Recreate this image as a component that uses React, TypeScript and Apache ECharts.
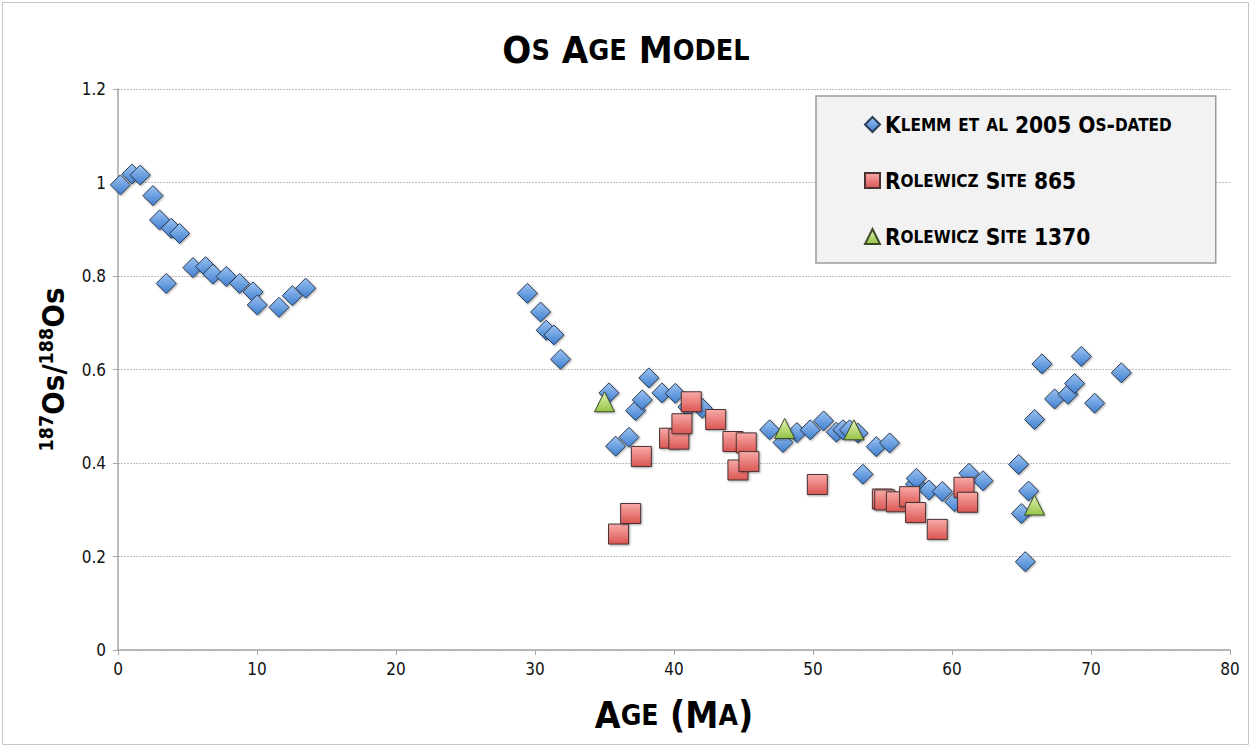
import React, { useEffect, useRef } from "react";
import * as echarts from "echarts";

const klemmAge = [0.17, 1.0, 1.6, 2.51, 2.99, 3.47, 3.83, 4.43, 5.39, 6.3, 6.83, 7.79, 8.75, 9.71, 10.02, 11.58, 12.54, 13.5,
  29.45, 30.4, 30.81, 31.36, 31.84, 35.32, 35.8, 36.76, 37.24, 37.72, 38.19, 39.13, 40.09, 41.0, 42.03,
  46.88, 47.84, 48.84, 49.8, 50.76, 51.68, 52.15, 52.63, 53.23, 53.59, 54.55, 55.51, 57.38, 57.43, 58.34, 59.3, 60.19, 61.22, 62.23,
  64.79, 64.99, 65.27, 65.51, 65.94, 66.47, 67.38, 68.34, 68.82, 69.3, 70.26, 72.18];
const klemmOs = [0.995, 1.018, 1.016, 0.972, 0.92, 0.784, 0.902, 0.891, 0.818, 0.82, 0.804, 0.799, 0.784, 0.766, 0.738, 0.733, 0.758, 0.774,
  0.763, 0.723, 0.684, 0.674, 0.622, 0.55, 0.436, 0.455, 0.512, 0.535, 0.582, 0.55, 0.549, 0.52, 0.517,
  0.471, 0.444, 0.465, 0.471, 0.49, 0.466, 0.471, 0.471, 0.464, 0.376, 0.435, 0.443, 0.355, 0.367, 0.342, 0.339, 0.317, 0.378, 0.362,
  0.397, 0.292, 0.189, 0.34, 0.493, 0.612, 0.537, 0.547, 0.57, 0.628, 0.528, 0.593];

const site865Age = [36.01, 36.88, 37.65, 39.68, 40.35, 40.57, 41.24, 43.0, 44.24, 44.6, 45.2, 45.39, 50.31, 54.99, 55.16, 56.0, 56.95, 57.38, 58.94, 60.86, 61.12];
const site865Os = [0.248, 0.292, 0.414, 0.453, 0.451, 0.484, 0.531, 0.493, 0.446, 0.385, 0.443, 0.403, 0.354, 0.323, 0.321, 0.317, 0.328, 0.294, 0.258, 0.348, 0.316];

const site1370Age = [35.0, 47.96, 52.94, 65.94];
const site1370Os = [0.531, 0.474, 0.471, 0.31];

const seriesNames = ["Klemm et al 2005 Os-dated", "Rolewicz Site 865", "Rolewicz Site 1370"];
const titleText = "Os Age Model";
const xName = "Age (Ma)";

const FONT = "'Liberation Sans Narrow', 'DejaVu Sans Condensed', 'Open Sans', sans-serif";

function smallCaps(s: string, big: string, small: string): string {
  let out = "";
  let cur = "";
  let curStyle = "";
  for (const ch of s) {
    const isLower = ch !== ch.toUpperCase();
    const st = isLower ? small : big;
    if (st !== curStyle && cur) {
      out += `{${curStyle}|${cur}}`;
      cur = "";
    }
    curStyle = st;
    cur += ch.toUpperCase();
  }
  if (cur) out += `{${curStyle}|${cur}}`;
  return out;
}

const zip = (a: number[], b: number[]) => a.map((v, i) => [v, b[i]]);

const grad = (top: string, bottom: string) =>
  new echarts.graphic.LinearGradient(0, 0, 0, 1, [
    { offset: 0, color: top },
    { offset: 1, color: bottom },
  ]);

export default function App() {
  const ref = useRef<HTMLDivElement>(null);
  useEffect(() => {
    if (!ref.current) return;
    const chart = echarts.init(ref.current, null, { renderer: "svg" });
    const shadow = { shadowBlur: 2, shadowColor: "rgba(0,0,0,0.35)", shadowOffsetX: 1, shadowOffsetY: 1 };
    chart.setOption({
      animation: false,
      backgroundColor: "#ffffff",
      title: {
        text: smallCaps(titleText, "B", "S"),
        left: "center",
        top: 26,
        textStyle: {
          rich: {
            B: { fontFamily: FONT, fontWeight: "bold", fontSize: 38, color: "#000" },
            S: { fontFamily: FONT, fontWeight: "bold", fontSize: 28.5, color: "#000" },
          },
        },
      },
      graphic: [
        {
          type: "rect",
          shape: { x: 2.5, y: 2.5, width: 1246, height: 742 },
          style: { fill: "none", stroke: "#c8c8c8", lineWidth: 1 },
          silent: true,
        },
      ],
      legend: {
        orient: "vertical",
        left: 816,
        top: 96,
        width: 401,
        backgroundColor: "#f2f2f2",
        borderColor: "#9a9a9a",
        borderWidth: 1.5,
        padding: [17, 44, 15, 48],
        itemGap: 33,
        itemWidth: 15,
        itemHeight: 15,
        data: seriesNames,
        formatter: (name: string) => smallCaps(name, "B", "S"),
        textStyle: {
          rich: {
            B: { fontFamily: FONT, fontWeight: "bold", fontSize: 22.5, color: "#000" },
            S: { fontFamily: FONT, fontWeight: "bold", fontSize: 17, color: "#000" },
          },
        },
      },
      grid: { left: 118, right: 22, top: 89, bottom: 98, containLabel: false },
      xAxis: {
        type: "value",
        min: 0,
        max: 80,
        interval: 10,
        name: smallCaps(xName, "B", "S"),
        nameLocation: "middle",
        nameGap: 47,
        nameTextStyle: {
          rich: {
            B: { fontFamily: FONT, fontWeight: "bold", fontSize: 37, color: "#000" },
            S: { fontFamily: FONT, fontWeight: "bold", fontSize: 28, color: "#000" },
          },
        },
        axisLine: { show: true, lineStyle: { color: "#a6a6a6", width: 1.5 } },
        axisTick: { show: true, length: 5, lineStyle: { color: "#a6a6a6" } },
        axisLabel: { fontFamily: FONT, fontSize: 17, color: "#111", margin: 10 },
        splitLine: { show: false },
      },
      yAxis: {
        type: "value",
        min: 0,
        max: 1.2,
        interval: 0.2,
        name: "{sup|187}{B|Os/}{sup|188}{B|Os}",
        nameLocation: "middle",
        nameRotate: 90,
        nameGap: 49,
        nameTextStyle: {
          rich: {
            sup: { fontFamily: FONT, fontWeight: "bold", fontSize: 19.5, color: "#000", verticalAlign: "top", lineHeight: 33 },
            B: { fontFamily: FONT, fontWeight: "bold", fontSize: 31, color: "#000", lineHeight: 33 },
          },
        },
        axisLine: { show: true, lineStyle: { color: "#a6a6a6", width: 1.5 } },
        axisTick: { show: true, length: 5, lineStyle: { color: "#a6a6a6" } },
        axisLabel: { fontFamily: FONT, fontSize: 17, color: "#111", margin: 12 },
        splitLine: { show: true, lineStyle: { color: "#bdbdbd", type: [2, 1], width: 1 } },
      },
      series: [
        {
          name: seriesNames[0],
          type: "scatter",
          symbol: "diamond",
          symbolSize: 20,
          data: zip(klemmAge, klemmOs),
          itemStyle: { color: grad("#9cc3f2", "#3f7fcf"), borderColor: "#2b3b52", borderWidth: 1, opacity: 1, ...shadow },
        },
        {
          name: seriesNames[1],
          type: "scatter",
          symbol: "rect",
          symbolSize: 20,
          data: zip(site865Age, site865Os),
          itemStyle: { color: grad("#f7aaa8", "#dc5652"), borderColor: "#4a3232", borderWidth: 1, opacity: 1, ...shadow },
        },
        {
          name: seriesNames[2],
          type: "scatter",
          symbol: "triangle",
          symbolSize: 20,
          data: zip(site1370Age, site1370Os),
          itemStyle: { color: grad("#e0f2b0", "#97c449"), borderColor: "#3b4a28", borderWidth: 1, opacity: 1, ...shadow },
        },
      ],
    });
    return () => chart.dispose();
  }, []);
  return <div ref={ref} style={{ width: 1252, height: 748, position: "absolute", left: 0, top: 0 }} />;
}
